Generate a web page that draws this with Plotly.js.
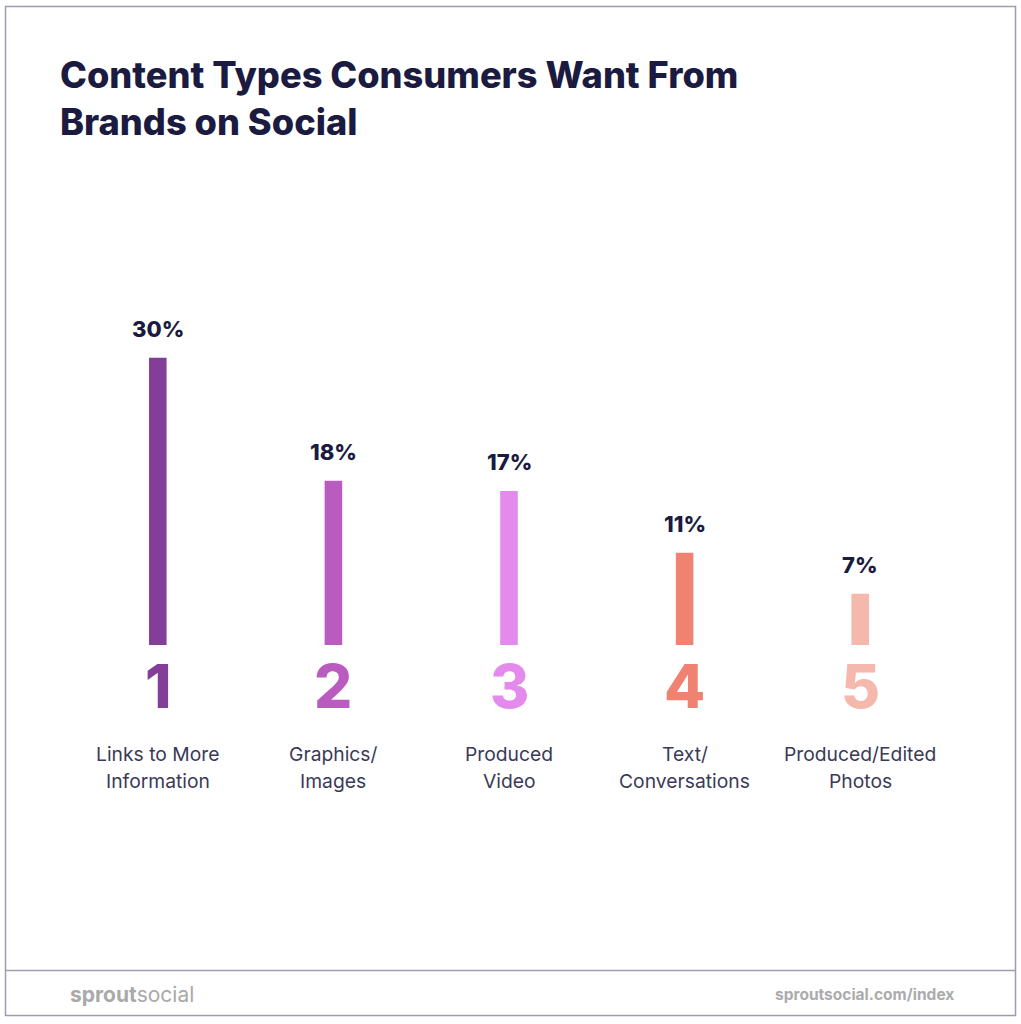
<!DOCTYPE html>
<html>
<head>
<meta charset="utf-8">
<script src="https://cdn.plot.ly/plotly-3.0.1.min.js"></script>
<style>
  html, body { margin: 0; padding: 0; background: #ffffff; }
  #chart { width: 1021px; height: 1024px; }
</style>
</head>
<body>
<div id="chart"></div>
<script>
// ---- data ----
const ranks = ['1', '2', '3', '4', '5'];
const categories = ['Links to More<br>Information', 'Graphics/<br>Images', 'Produced<br>Video', 'Text/<br>Conversations', 'Produced/Edited<br>Photos'];
const values = [30, 18, 17, 11, 7];
const valueLabels = ['30%', '18%', '17%', '11%', '7%'];
const barColors = ['#833f98', '#b95bbf', '#e48aec', '#ef8270', '#f5b8ac'];

// ---- layout geometry (pixels) ----
const W = 1021, H = 1024;
const M = { l: 70, r: 73, t: 300, b: 379 };
const plotW = W - M.l - M.r, plotH = H - M.t - M.b;
const px = x => (x - M.l) / plotW;           // pixel -> paper x
const py = y => (H - M.b - y) / plotH;        // pixel -> paper y

const navy = '#1b1a40';
const labelColor = '#3a3a58';
const font = 'Inter, "Open Sans", sans-serif';

const annotations = [];
ranks.forEach((r, i) => {
  // value label above bar
  annotations.push({
    x: i, y: values[i], xref: 'x', yref: 'y',
    text: valueLabels[i], showarrow: false,
    yanchor: 'bottom', yshift: 14,
    font: { family: font, size: 22, color: navy, weight: 800 }
  });
  // big rank number
  annotations.push({
    x: i, y: py(686), xref: 'x', yref: 'paper',
    text: r, showarrow: false, yanchor: 'middle',
    font: { family: font, size: 60, color: barColors[i], weight: 800 }
  });
  // category label lines
  categories[i].split('<br>').forEach((line, k) => {
    annotations.push({
      x: i, y: py(754 + k * 27), xref: 'x', yref: 'paper',
      text: line, showarrow: false, yanchor: 'middle',
      font: { family: font, size: 19.3, color: labelColor }
    });
  });
});

// footer texts
annotations.push({
  x: px(68), y: py(994), xref: 'paper', yref: 'paper',
  text: '<b>sprout</b>social', showarrow: false, xanchor: 'left', yanchor: 'middle',
  font: { family: font, size: 21, color: '#a9a9a9' }
});
annotations.push({
  x: px(956), y: py(994), xref: 'paper', yref: 'paper',
  text: '<b>sproutsocial.com/index</b>', showarrow: false, xanchor: 'right', yanchor: 'middle',
  font: { family: font, size: 15.5, color: '#ababab' }
});

const shapes = [
  { type: 'rect', xref: 'paper', yref: 'paper',
    x0: px(5.5), x1: px(1015.5), y0: py(6.5), y1: py(1015.5),
    line: { color: '#9c9cb4', width: 1.5 }, fillcolor: 'rgba(0,0,0,0)' },
  { type: 'line', xref: 'paper', yref: 'paper',
    x0: px(5.5), x1: px(1015.5), y0: py(970.5), y1: py(970.5),
    line: { color: '#9c9cb4', width: 1.5 } }
];

const trace = {
  type: 'bar',
  x: ranks.map((r, i) => i),
  y: values,
  width: 0.1,
  marker: { color: barColors, line: { width: 0 } },
  hoverinfo: 'skip'
};

const layout = {
  width: W, height: H,
  margin: M,
  paper_bgcolor: '#ffffff', plot_bgcolor: '#ffffff',
  showlegend: false,
  title: {
    text: 'Content Types Consumers Want From<br>Brands on Social',
    xref: 'container', yref: 'container',
    x: 60 / W, xanchor: 'left',
    y: 1 - 88 / H, yanchor: 'top',
    font: { family: font, size: 36.2, color: navy, weight: 800 }
  },
  xaxis: { range: [-0.5, 4.5], visible: false, fixedrange: true },
  yaxis: { range: [2, 2 + plotH / 10.26], visible: false, fixedrange: true },
  annotations: annotations,
  shapes: shapes
};

Plotly.newPlot('chart', [trace], layout, { displayModeBar: false, staticPlot: true });
</script>
</body>
</html>
